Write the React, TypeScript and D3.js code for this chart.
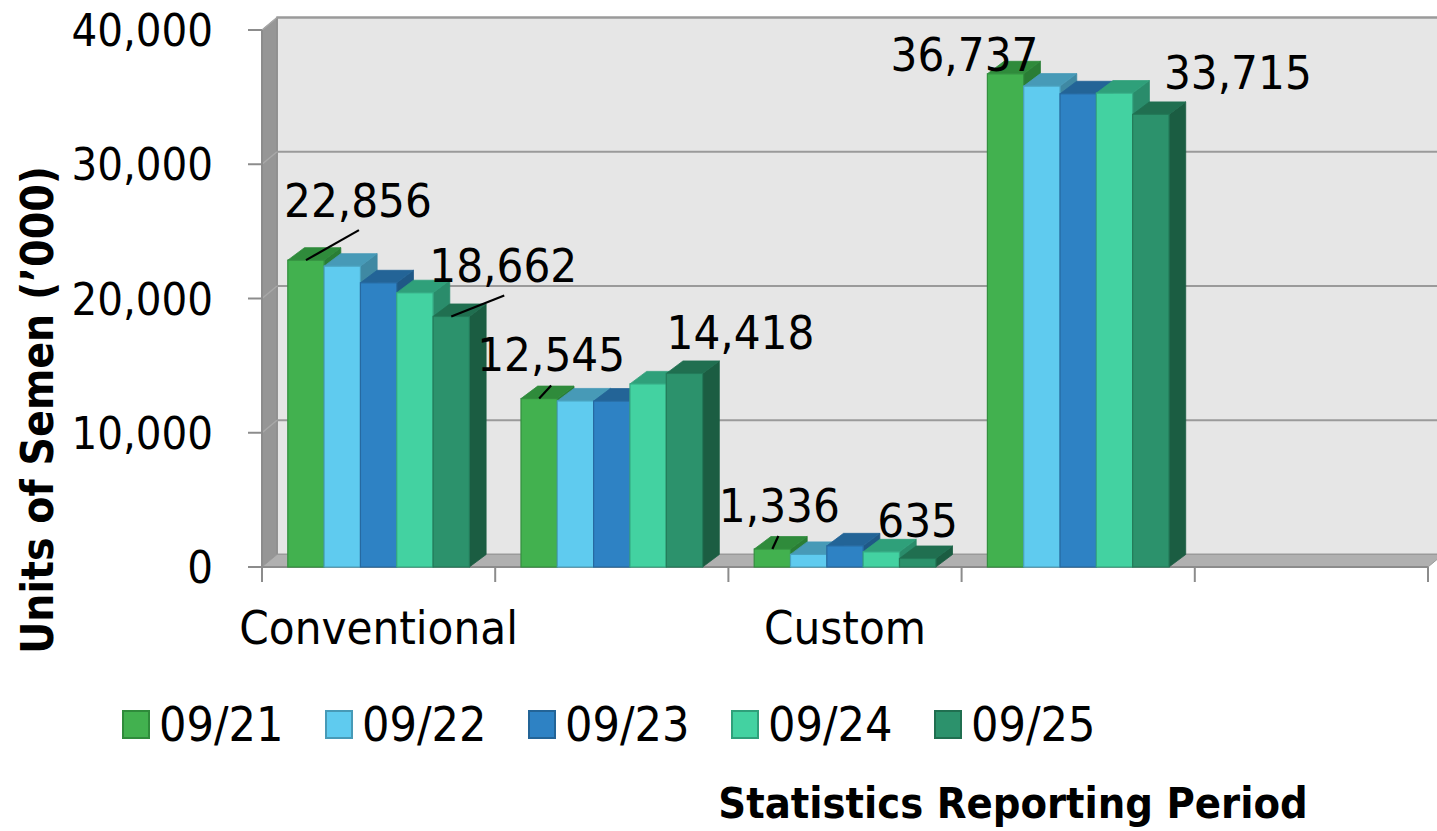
import React from "react";
import * as d3 from "d3";

// category slots along the x axis (only every other label is shown in the original)
const categories = ["Conventional", "", "Custom", "", ""];
const periods = ["09/21", "09/22", "09/23", "09/24", "09/25"];

// units of semen ('000) per period, one value per category slot
const p0921 = [22856, 12545, 1336, 36737, null];
const p0922 = [22410, 12370, 940, 35820, null];
const p0923 = [21170, 12360, 1577, 35250, null];
const p0924 = [20430, 13640, 1130, 35300, null];
const p0925 = [18662, 14418, 635, 33715, null];
const seriesValues = [p0921, p0922, p0923, p0924, p0925];

const yTicks = [0, 10000, 20000, 30000, 40000];

// which bars carry a data label: [series, category]
const labelled = [
  [0, 0], [4, 0], [0, 1], [4, 1], [0, 2], [4, 2], [0, 3], [4, 3],
];
// label offset from the bar's front-top centre, and optional leader line end
const labelOffsets = [
  { dx: 52, dy: -43, lx: 53, ly: -30 },
  { dx: 52, dy: -34, lx: 53, ly: -21 },
  { dx: 12, dy: -28, lx: 12, ly: -13 },
  { dx: 56, dy: -24 },
  { dx: 7, dy: -27, lx: 6, ly: -13 },
  { dx: 0, dy: -21 },
  { dx: -41, dy: -3 },
  { dx: 87, dy: -25 },
];

const colors = [
  { front: "#42b14f", top: "#2f8b3b", side: "#2a7d35", edge: "#338f3f" },
  { front: "#5fcbef", top: "#479ab7", side: "#3f89a3", edge: "#4aa3c0" },
  { front: "#2e82c4", top: "#236497", side: "#1f5886", edge: "#2669a0" },
  { front: "#43d2a1", top: "#2fa07a", side: "#2a8c6b", edge: "#35a983" },
  { front: "#2c926c", top: "#206f50", side: "#1b5d42", edge: "#237a59" },
];

const W = 1437;
const H = 831;
const FONT = "'DejaVu Sans Condensed', 'DejaVu Sans', sans-serif";

export default function App() {
  const left = 262,
    right = 1428,
    top = 30,
    bottom = 567;
  const wallDx = 15,
    wallDy = -12.5;
  const barDx = 16.7,
    barDy = -12.5;

  const y = d3.scaleLinear().domain([0, 40000]).range([bottom, top]);
  const x0 = d3
    .scaleBand<number>()
    .domain(d3.range(categories.length))
    .range([left, right]);
  const x1 = d3
    .scaleBand<number>()
    .domain(d3.range(periods.length))
    .range([0, x0.bandwidth()])
    .paddingOuter(0.71);
  const bw = x1.bandwidth();
  const fmt = d3.format(",");

  const pts = (a: number[][]) => a.map((p) => p.join(",")).join(" ");

  const bars: JSX.Element[] = [];
  categories.forEach((_, c) => {
    seriesValues.forEach((vals, s) => {
      const v = vals[c];
      if (v == null) return;
      const xl = x0(c)! + x1(s)!;
      const xr = xl + bw;
      const yt = y(v);
      const col = colors[s];
      bars.push(
        <g key={`b${c}-${s}`}>
          <polygon
            points={pts([[xr, bottom], [xr + barDx, bottom + barDy], [xr + barDx, yt + barDy], [xr, yt]])}
            fill={col.side}
            stroke={col.side}
            strokeWidth={0.8}
          />
          <polygon
            points={pts([[xl, yt], [xr, yt], [xr + barDx, yt + barDy], [xl + barDx, yt + barDy]])}
            fill={col.top}
            stroke={col.top}
            strokeWidth={0.8}
          />
          <rect x={xl} y={yt} width={bw} height={bottom - yt} fill={col.front} stroke={col.edge} strokeWidth={1.2} />
        </g>
      );
    });
  });

  const labels = labelled.map(([s, c], i) => {
    const v = seriesValues[s][c] as number;
    const cx = x0(c)! + x1(s)! + bw / 2;
    const cy = y(v);
    const o = labelOffsets[i];
    return (
      <g key={`l${i}`}>
        {o.lx != null && (
          <line x1={cx} y1={cy} x2={cx + o.lx} y2={cy + (o.ly as number)} stroke="#000" strokeWidth={2.2} />
        )}
        <text x={cx + o.dx} y={cy + o.dy} textAnchor="middle" fontSize={47} fill="#000">
          {fmt(v)}
        </text>
      </g>
    );
  });

  const wallRight = right + wallDx;

  return (
    <svg
      width={W}
      height={H}
      style={{ position: "absolute", left: 0, top: 0, background: "#fff" }}
      fontFamily={FONT}
      fontStretch="condensed"
    >
      {/* back wall */}
      <rect
        x={left + wallDx}
        y={top + wallDy}
        width={wallRight - left - wallDx}
        height={bottom - top}
        fill="#e6e6e6"
        stroke="#9a9a9a"
        strokeWidth={2}
      />
      {/* side wall */}
      <polygon
        points={pts([[left, bottom], [left, top], [left + wallDx, top + wallDy], [left + wallDx, bottom + wallDy]])}
        fill="#969696"
        stroke="#8a8a8a"
        strokeWidth={1}
      />
      {/* floor */}
      <polygon
        points={pts([[left, bottom], [left + wallDx, bottom + wallDy], [wallRight, bottom + wallDy], [right, bottom]])}
        fill="#b0b0b0"
        stroke="#9a9a9a"
        strokeWidth={1}
      />
      {/* gridlines */}
      {yTicks.slice(1).map((t) => (
        <g key={`g${t}`}>
          <line x1={left + wallDx} x2={wallRight} y1={y(t) + wallDy} y2={y(t) + wallDy} stroke="#9a9a9a" strokeWidth={2} />
          <line x1={left} x2={left + wallDx} y1={y(t)} y2={y(t) + wallDy} stroke="#a8a8a8" strokeWidth={1.5} />
        </g>
      ))}
      {/* y axis */}
      <line x1={left} x2={left} y1={top} y2={bottom} stroke="#8c8c8c" strokeWidth={2} />
      {yTicks.map((t) => (
        <g key={`t${t}`}>
          <line x1={left - 14} x2={left} y1={y(t)} y2={y(t)} stroke="#8c8c8c" strokeWidth={2} />
          <text x={213} y={y(t) + 16} textAnchor="end" fontSize={45} fill="#000">
            {fmt(t)}
          </text>
        </g>
      ))}
      {/* x axis */}
      <line x1={left} x2={right} y1={bottom} y2={bottom} stroke="#8c8c8c" strokeWidth={2} />
      {d3.range(categories.length + 1).map((i) => {
        const xx = i < categories.length ? x0(i)! : right;
        return <line key={`xt${i}`} x1={xx} x2={xx} y1={bottom} y2={bottom + 15} stroke="#8c8c8c" strokeWidth={2} />;
      })}
      {categories.map((c, i) =>
        c ? (
          <text key={`xl${i}`} x={x0(i)! + x0.bandwidth() / 2} y={644} textAnchor="middle" fontSize={47} fill="#000">
            {c}
          </text>
        ) : null
      )}
      {bars}
      {labels}
      {/* legend */}
      {periods.map((p, i) => {
        const lx = 123 + i * 203;
        const col = colors[i];
        return (
          <g key={`lg${i}`}>
            <rect x={lx} y={711} width={26} height={27} fill={col.front} stroke={col.top} strokeWidth={2} />
            <text x={lx + 36} y={741} fontSize={48} fill="#000">
              {p}
            </text>
          </g>
        );
      })}
      {/* axis titles */}
      <text
        transform="translate(53,410) rotate(-90)"
        textAnchor="middle"
        fontSize={44}
        fontWeight="bold"
        fill="#000"
      >
        Units of Semen (’000)
      </text>
      <text x={1013} y={818} textAnchor="middle" fontSize={43} fontWeight="bold" fill="#000">
        Statistics Reporting Period
      </text>
    </svg>
  );
}
